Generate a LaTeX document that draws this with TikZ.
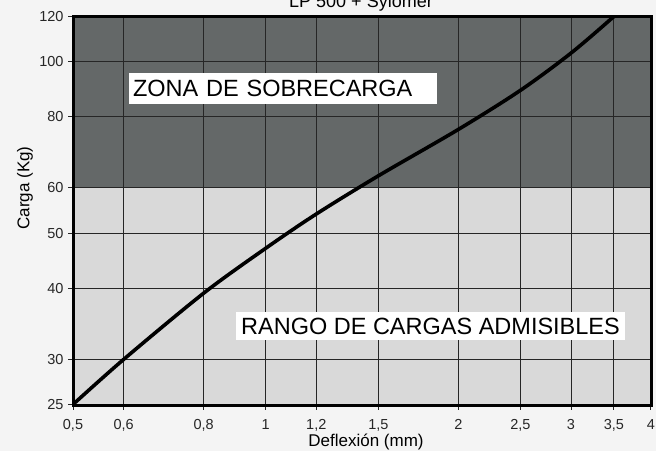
\documentclass[tikz,border=0pt]{standalone}
\usepackage{fontspec}
\setmainfont{Liberation Sans}

\definecolor{overload}{RGB}{100,104,104}
\definecolor{admissible}{RGB}{217,217,217}
\definecolor{paper}{RGB}{244,244,244}

\begin{document}
\begin{tikzpicture}[x=1pt,y=-1pt,
    declare function={px(\v)=73+640*log10(\v/0.5); py(\v)=16.5+569.5*log10(120/\v);},
    grid/.style={line width=1pt,black!85},
    ticklabel/.style={font=\fontsize{14.5}{16}\selectfont,inner sep=0pt},
    xticklabel/.style={ticklabel,anchor=base,yshift=-19pt},
    axislabel/.style={font=\fontsize{17}{19}\selectfont,inner sep=0pt},
    zone/.style={fill=white,font=\fontsize{23.5}{26}\selectfont,align=left,inner ysep=0pt}]
      \def\xl{73}
      \def\xr{651}
      \def\yt{16.5}
      \def\yb{405}
      \def\tick{5}

      \useasboundingbox[fill=paper] (0,0) rectangle (656,451);

      % zones
      \fill[overload] (\xl,{py(120)}) rectangle (\xr,{py(60)});
      \fill[admissible] (\xl,{py(60)}) rectangle (\xr,{py(25)});

      % vertical grid, ticks and labels
      \draw[grid] ({px(0.5)},\yb) -- ++(0,\tick) node[xticklabel] (x05) {0,5};
      \draw[grid] ({px(0.6)},\yt) -- ({px(0.6)},{\yb+\tick}) node[xticklabel] (x06) {0,6};
      \draw[grid] ({px(0.8)},\yt) -- ({px(0.8)},{\yb+\tick}) node[xticklabel] (x08) {0,8};
      \draw[grid] ({px(1)},\yt) -- ({px(1)},{\yb+\tick}) node[xticklabel] (x1) {1};
      \draw[grid] ({px(1.2)},\yt) -- ({px(1.2)},{\yb+\tick}) node[xticklabel] (x12) {1,2};
      \draw[grid] ({px(1.5)},\yt) -- ({px(1.5)},{\yb+\tick}) node[xticklabel] (x15) {1,5};
      \draw[grid] ({px(2)},\yt) -- ({px(2)},{\yb+\tick}) node[xticklabel] (x2) {2};
      \draw[grid] ({px(2.5)},\yt) -- ({px(2.5)},{\yb+\tick}) node[xticklabel] (x25) {2,5};
      \draw[grid] ({px(3)},\yt) -- ({px(3)},{\yb+\tick}) node[xticklabel] (x3) {3};
      \draw[grid] ({px(3.5)},\yt) -- ({px(3.5)},{\yb+\tick}) node[xticklabel] (x35) {3,5};
      \draw[grid] ({px(4)},\yb) -- ++(0,\tick) node[xticklabel] (x4) {4};

      % horizontal grid, ticks and labels
      \draw[grid] (\xl,{py(25)}) -- ++(-\tick,0) node[ticklabel,left=4pt] (y25) {25};
      \draw[grid] (\xr,{py(30)}) -- ({\xl-\tick},{py(30)}) node[ticklabel,left=4pt] (y30) {30};
      \draw[grid] (\xr,{py(40)}) -- ({\xl-\tick},{py(40)}) node[ticklabel,left=4pt] (y40) {40};
      \draw[grid] (\xr,{py(50)}) -- ({\xl-\tick},{py(50)}) node[ticklabel,left=4pt] (y50) {50};
      \draw[grid] (\xr,{py(60)}) -- ({\xl-\tick},{py(60)}) node[ticklabel,left=4pt] (y60) {60};
      \draw[grid] (\xr,{py(80)}) -- ({\xl-\tick},{py(80)}) node[ticklabel,left=4pt] (y80) {80};
      \draw[grid] (\xr,{py(100)}) -- ({\xl-\tick},{py(100)}) node[ticklabel,left=4pt] (y100) {100};
      \draw[grid] (\xl,{py(120)}) -- ++(-\tick,0) node[ticklabel,left=4pt] (y120) {120};

      % load curve
      \begin{scope}
        \clip (\xl,\yt) rectangle (\xr,\yb);
        \draw[line width=3.6pt,line join=round] plot[smooth] coordinates {
          ({px(0.5)},{py(25)}) ({px(0.6)},{py(30)}) ({px(0.8)},{py(39.2)})
          ({px(1)},{py(47)}) ({px(1.2)},{py(54)}) ({px(1.5)},{py(63)})
          ({px(2)},{py(76)}) ({px(2.5)},{py(89)}) ({px(3)},{py(103.5)})
          ({px(3.5)},{py(120)}) ({px(3.6)},{py(124)})};
      \end{scope}

      \draw[line width=3pt] (\xl,\yt) rectangle (\xr,\yb);

      \node[zone,text width=300pt,inner xsep=4pt,minimum height=31pt] (zona) at (283,88.5) {ZONA DE SOBRECARGA};
      \node[zone,inner xsep=0pt,minimum width=389pt,minimum height=28pt] (rango) at (430.5,326) {RANGO DE CARGAS ADMISIBLES};

      \node[axislabel,rotate=90] (ylab) at (25,188) {Carga (Kg)};
      \node[axislabel,anchor=base] (xlab) at (366,446) {Deflexión (mm)};
      \node[font=\fontsize{18}{20}\selectfont,anchor=base,inner sep=0pt] (title) at (361,7) {LP 500 + Sylomer};
    \end{tikzpicture}
\end{document}
